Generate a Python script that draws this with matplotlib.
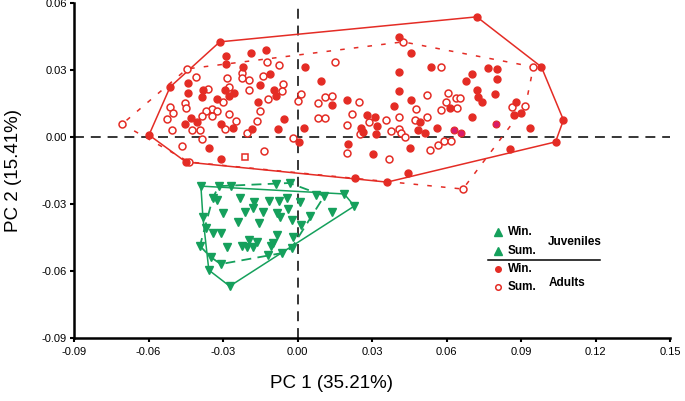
import numpy as np
import matplotlib
matplotlib.use("Agg")
import matplotlib.pyplot as plt

# === DATA (PC1, PC2 scores) ===
# adults, winter (filled circles)
adult_win_x = [-0.0313, -0.0513, -0.0598, -0.0449, -0.0289, -0.0289, -0.0441, -0.0441, -0.0381,
               -0.0385, -0.0325, -0.0293, -0.0277, -0.0257, -0.0429, -0.0453, -0.0405, -0.0309,
               -0.0261, -0.0357, -0.0309, -0.0188, -0.0128, -0.0221, -0.0112, -0.0152, -0.0096,
               -0.0088, -0.0160, -0.0056, -0.0184, -0.0080, 0.0032, 0.0096, 0.0028, 0.0008,
               0.0201, 0.0140, 0.0257, 0.0205, 0.0233, 0.0409, 0.0457, 0.0409, 0.0409, 0.0537,
               0.0678, 0.0457, 0.0389, 0.0281, 0.0313, 0.0321, 0.0265, 0.0317, 0.0493, 0.0485,
               0.0513, 0.0561, 0.0614, 0.0453, 0.0305, 0.0445, 0.0722, 0.0982, 0.1071, 0.1039,
               0.0766, 0.0802, 0.0802, 0.0702, 0.0722, 0.0726, 0.0742, 0.0794, 0.0702, 0.0878,
               0.0870, 0.0902, 0.0938, 0.0854, 0.0361]
adult_win_y = [0.0426, 0.0224, 0.0009, -0.0112, 0.0363, 0.0327, 0.0242, 0.0197, 0.0211,
               0.0179, 0.0170, 0.0211, 0.0184, 0.0197, 0.0085, 0.0058, 0.0067, 0.0058,
               0.0040, -0.0049, -0.0099, 0.0376, 0.0390, 0.0314, 0.0282, 0.0233, 0.0211,
               0.0184, 0.0157, 0.0081, 0.0036, 0.0036, 0.0314, 0.0251, 0.0040, -0.0022,
               0.0166, 0.0143, 0.0040, -0.0031, -0.0184, 0.0448, 0.0376, 0.0291, 0.0206, 0.0314,
               0.0251, 0.0166, 0.0139, 0.0099, 0.0090, 0.0049, 0.0022, 0.0013, 0.0067, 0.0031,
               0.0018, 0.0040, 0.0130, -0.0049, -0.0076, -0.0161, 0.0538, 0.0314, 0.0076, -0.0022,
               0.0309, 0.0305, 0.0260, 0.0282, 0.0211, 0.0179, 0.0157, 0.0193, 0.0090, 0.0157,
               0.0099, 0.0108, 0.0040, -0.0054, -0.0202]
# a few winter adults printed in magenta
adult_win_mag_x = [0.0630, 0.0658, 0.0798]
adult_win_mag_y = [0.0031, 0.0018, 0.0058]

# adults, summer (open circles)
adult_sum_x = [-0.0706, -0.0445, -0.0409, -0.0361, -0.0285, -0.0277, -0.0453, -0.0449, -0.0513,
               -0.0501, -0.0525, -0.0345, -0.0369, -0.0325, -0.0385, -0.0345, -0.0277, -0.0301,
               -0.0249, -0.0505, -0.0425, -0.0393, -0.0293, -0.0385, -0.0465, -0.0437, -0.0124,
               -0.0076, -0.0225, -0.0225, -0.0196, -0.0140, -0.0196, -0.0060, -0.0064, -0.0120,
               -0.0152, -0.0164, -0.0205, -0.0136, -0.0020, 0.0016, 0.0000, 0.0152, 0.0084,
               0.0112, 0.0140, 0.0249, 0.0084, 0.0112, 0.0221, 0.0201, 0.0253, 0.0201, 0.0425,
               0.0577, 0.0606, 0.0638, 0.0654, 0.0597, 0.0642, 0.0577, 0.0521, 0.0477, 0.0409,
               0.0473, 0.0521, 0.0357, 0.0289, 0.0377, 0.0409, 0.0417, 0.0433, 0.0565, 0.0589,
               0.0618, 0.0533, 0.0369, 0.0666, 0.0950, 0.0862, 0.0918]
adult_sum_y = [0.0058, 0.0305, 0.0269, 0.0215, 0.0264, 0.0224, 0.0152, 0.0130, 0.0134,
               0.0108, 0.0081, 0.0125, 0.0116, 0.0116, 0.0094, 0.0094, 0.0103, 0.0157,
               0.0072, 0.0031, 0.0031, 0.0031, 0.0036, -0.0009, -0.0040, -0.0112, 0.0336,
               0.0323, 0.0287, 0.0264, 0.0255, 0.0273, 0.0211, 0.0237, 0.0206, 0.0170,
               0.0116, 0.0072, 0.0018, -0.0063, -0.0004, 0.0193, 0.0161, 0.0336, 0.0152,
               0.0179, 0.0184, 0.0157, 0.0085, 0.0085, 0.0103, 0.0054, 0.0013, -0.0072, 0.0426,
               0.0314, 0.0197, 0.0175, 0.0175, 0.0157, 0.0130, 0.0121, 0.0188, 0.0125, 0.0090,
               0.0076, 0.0090, 0.0076, 0.0067, 0.0027, 0.0036, 0.0018, 0.0000, -0.0036, -0.0018,
               -0.0018, -0.0058, -0.0099, -0.0233, 0.0314, 0.0134, 0.0139]
# single odd square marker
odd_x = [-0.0213]
odd_y = [-0.0090]

# juveniles, winter (solid hull)
juv_win_x = [-0.0389, 0.0188, 0.0229, -0.0273, -0.0357, -0.0381, -0.0325, -0.0301, -0.0369,
             -0.0341, -0.0309, -0.0285, -0.0225, -0.0205, -0.0180, -0.0100, -0.0116, -0.0076,
             -0.0044, -0.0040, 0.0140, -0.0072, -0.0180, -0.0156, -0.0084, -0.0024, -0.0164,
             -0.0108]
juv_win_y = [-0.0220, -0.0255, -0.0309, -0.0668, -0.0596, -0.0358, -0.0282, -0.0340, -0.0408,
             -0.0430, -0.0430, -0.0493, -0.0488, -0.0493, -0.0493, -0.0475, -0.0287, -0.0287,
             -0.0273, -0.0323, -0.0336, -0.0358, -0.0318, -0.0385, -0.0340, -0.0372, -0.0470,
             -0.0488]
# juveniles, summer (dashed hull)
juv_sum_x = [-0.0317, -0.0269, -0.0088, -0.0032, 0.0076, 0.0108, -0.0024, -0.0120, -0.0309,
             -0.0349, -0.0393, -0.0341, -0.0233, -0.0176, -0.0213, -0.0140, -0.0241, -0.0084,
             -0.0020, 0.0016, 0.0052, -0.0064, -0.0196, 0.0012]
juv_sum_y = [-0.0220, -0.0220, -0.0211, -0.0206, -0.0260, -0.0264, -0.0497, -0.0529, -0.0569,
             -0.0538, -0.0488, -0.0273, -0.0273, -0.0291, -0.0336, -0.0336, -0.0381, -0.0439,
             -0.0448, -0.0394, -0.0354, -0.0520, -0.0461, -0.0291]

XTICKS = [-0.09, -0.06, -0.03, 0.00, 0.03, 0.06, 0.09, 0.12, 0.15]
YTICKS = [-0.09, -0.06, -0.03, 0.00, 0.03, 0.06]

RED = "#e42c25"
MAG = "#d81b6a"
GREEN = "#15a05c"


def hull(xs, ys):
    # monotone chain convex hull, returns closed polygon
    pts = sorted(set(zip(xs, ys)))

    def cross(o, a, b):
        return (a[0] - o[0]) * (b[1] - o[1]) - (a[1] - o[1]) * (b[0] - o[0])

    lower, upper = [], []
    for p in pts:
        while len(lower) >= 2 and cross(lower[-2], lower[-1], p) <= 0:
            lower.pop()
        lower.append(p)
    for p in reversed(pts):
        while len(upper) >= 2 and cross(upper[-2], upper[-1], p) <= 0:
            upper.pop()
        upper.append(p)
    h = lower[:-1] + upper[:-1]
    h.append(h[0])
    return np.array(h)


plt.rcParams["font.family"] = ["Liberation Sans", "DejaVu Sans"]

fig = plt.figure(figsize=(6.85, 4.01), dpi=100)
ax = fig.add_axes([74 / 685, 1 - 338 / 401, 596 / 685, 335 / 401])

# zero lines
ax.axhline(0, color="black", lw=1.1, ls=(0, (6.5, 4.5)), zorder=1)
ax.axvline(0, color="black", lw=1.1, ls=(0, (6.5, 4.5)), zorder=1)

# hulls
h = hull(adult_win_x + adult_win_mag_x, adult_win_y + adult_win_mag_y)
ax.plot(h[:, 0], h[:, 1], color=RED, lw=1.1, zorder=2)
h = hull(adult_sum_x, adult_sum_y)
ax.plot(h[:, 0], h[:, 1], color=RED, lw=1.1, ls=(0, (3, 6)), zorder=2)
h = hull(juv_win_x, juv_win_y)
ax.plot(h[:, 0], h[:, 1], color=GREEN, lw=1.1, zorder=2)
h = hull(juv_sum_x, juv_sum_y)
ax.plot(h[:, 0], h[:, 1], color=GREEN, lw=1.3, ls=(0, (5.5, 3.5)), zorder=2)

# points
ax.plot(adult_sum_x, adult_sum_y, "o", ms=5, mfc="white", mec=RED, mew=1.1, zorder=3)
ax.plot(adult_win_x, adult_win_y, "o", ms=5, color=RED, zorder=4)
ax.plot(adult_win_mag_x, adult_win_mag_y, "o", ms=5, mfc=MAG, mec=RED, mew=0.8, zorder=4)
ax.plot(odd_x, odd_y, "s", ms=4.5, mfc="white", mec=RED, mew=1.1, zorder=3)
ax.plot(juv_win_x, juv_win_y, "v", ms=6, color=GREEN, zorder=3)
ax.plot(juv_sum_x, juv_sum_y, "v", ms=6, color=GREEN, zorder=3)

# axes styling
ax.set_xlim(-0.09, 0.15)
ax.set_ylim(-0.09, 0.06)
ax.set_xticks(XTICKS)
ax.set_yticks(YTICKS)
ax.set_xticklabels([f"{t:.2f}" for t in XTICKS])
ax.set_yticklabels([f"{t:.2f}" for t in YTICKS])
for s in ["top", "right"]:
    ax.spines[s].set_visible(False)
for s in ["left", "bottom"]:
    ax.spines[s].set_linewidth(1.8)
ax.tick_params(direction="out", length=3, width=1.5, labelsize=8, pad=2)
ax.tick_params(axis="x", pad=3.5)

fig.text(332 / 685, 1 - 383 / 401, "PC 1 (35.21%)", fontsize=13.5, ha="center", va="center",
         family=["Liberation Sans Narrow", "Liberation Sans"])
fig.text(14 / 685, 1 - 170 / 401, "PC 2 (15.41%)", fontsize=13.5, ha="center", va="center",
         rotation=90, family=["Liberation Sans Narrow", "Liberation Sans"])

# custom legend
tr = ax.transAxes
leg_kw = dict(transform=tr, clip_on=False, zorder=5)
ax.plot([0.711], [0.316], "^", ms=6, color=GREEN, **leg_kw)
ax.plot([0.711], [0.260], "^", ms=6, color=GREEN, **leg_kw)
ax.plot([0.711], [0.206], "o", ms=4, color=RED, **leg_kw)
ax.plot([0.711], [0.152], "o", ms=4, mfc="white", mec=RED, mew=1.1, **leg_kw)
ax.plot([0.695, 0.883], [0.233, 0.233], color="black", lw=1.1, **leg_kw)
txt_kw = dict(transform=tr, fontsize=8.5, fontweight="bold", va="center", ha="left")
ax.text(0.728, 0.316, "Win.", **txt_kw)
ax.text(0.728, 0.260, "Sum.", **txt_kw)
ax.text(0.728, 0.206, "Win.", **txt_kw)
ax.text(0.728, 0.152, "Sum.", **txt_kw)
ax.text(0.795, 0.287, "Juveniles", **txt_kw)
ax.text(0.797, 0.164, "Adults", **txt_kw)

fig.savefig("out.png", dpi=100)
